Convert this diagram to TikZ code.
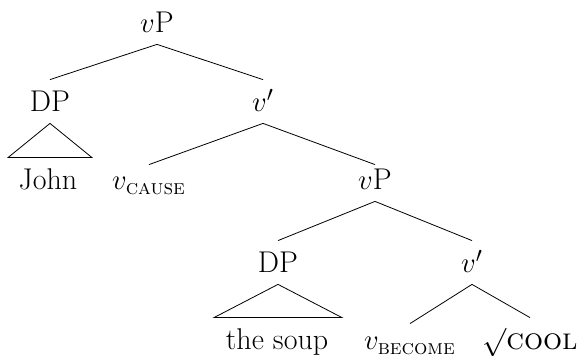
\documentclass[tikz,border=0pt]{standalone}
\usepackage{amsmath}

\begin{document}
\begin{tikzpicture}[x=0.5pt,y=-0.5pt,
        lbl/.style={anchor=base,inner xsep=0pt,inner ysep=5.5pt,text height=10.5pt,text depth=0pt,font=\fontsize{15}{18}\selectfont}]
        \useasboundingbox (0,0) rectangle (580,356);
        % Define nodes
        \node[lbl] (vP) at (157,33) {$v$P};
        \node[lbl] (DP) at (50,112) {DP};
        \node[lbl] (vbar) at (263,112) {$v'$};
        \node[lbl] (john) at (48,190) {John};
        \node[lbl] (vcause) at (149,190) {$v_{\textsc{cause}}$};
        \node[lbl] (vPlow) at (375,190) {$v$P};
        \node[lbl] (DPlow) at (278,273) {DP};
        \node[lbl] (vbarlow) at (472,273) {$v'$};
        \node[lbl] (soup) at (277,350) {the soup};
        \node[lbl] (vbecome) at (410,350) {$v_{\textsc{become}}$};
        \node[lbl] (cool) at (530,350) {$\surd$\textsc{cool}};
        % Connect nodes
        \draw (vP.south) -- (DP.north);
        \draw (vP.south) -- (vbar.north);
        \draw (DP.south) -- ([xshift=-21pt]DP.south |- john.north) -- ([xshift=21pt]DP.south |- john.north) -- cycle;
        \draw (vbar.south) -- ([yshift=-3.5pt]vcause.north);
        \draw (vbar.south) -- ([yshift=-3.5pt]vPlow.north);
        \draw (vPlow.south) -- (DPlow.north);
        \draw (vPlow.south) -- (vbarlow.north);
        \draw (DPlow.south) -- ([xshift=-32pt]DPlow.south |- soup.north) -- ([xshift=32pt]DPlow.south |- soup.north) -- cycle;
        \draw (vbarlow.south) -- ([yshift=-3pt]vbecome.north);
        \draw (vbarlow.south) -- (cool.north);
    \end{tikzpicture}
\end{document}
